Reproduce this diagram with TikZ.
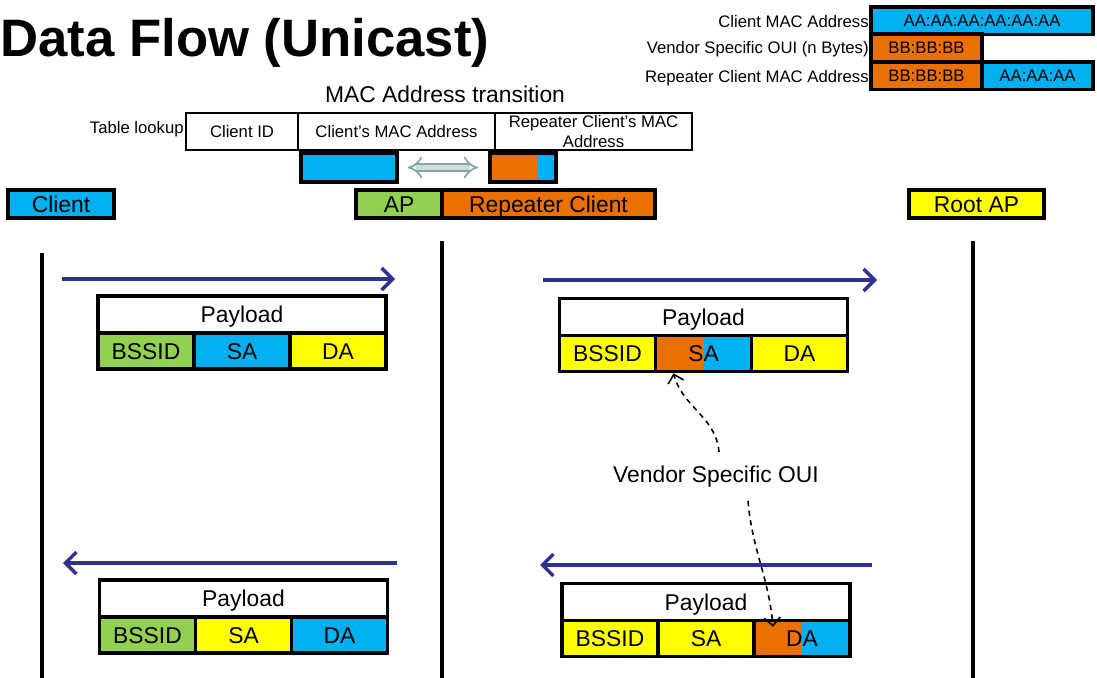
\documentclass[tikz,border=0pt]{standalone}
\usepackage{fontspec}
\setmainfont{Liberation Sans}
\usepackage{tikz}
\usetikzlibrary{arrows.meta}

\definecolor{macblue}{RGB}{0,176,240}
\definecolor{macorange}{RGB}{236,112,0}
\definecolor{macgreen}{RGB}{146,208,80}
\definecolor{macyellow}{RGB}{255,255,0}
\definecolor{flownavy}{RGB}{46,49,146}
\definecolor{swapgray}{RGB}{130,165,165}

\tikzset{
  field/.style={draw, line width=2pt, inner sep=0pt, minimum width=1.92cm, minimum height=0.72cm, text height=9.3pt, text depth=0pt, font=\fontsize{13}{15}\selectfont},
  payload/.style={field, fill=white, minimum width=5.76cm, minimum height=0.74cm},
  halves/.style={fill=macblue, path picture={\fill[macorange] (path picture bounding box.south west) rectangle ([xshift=#1]path picture bounding box.north west);}},
  station/.style={draw, line width=2pt, inner sep=0pt, minimum height=0.56cm, text height=9.3pt, text depth=0pt, font=\fontsize{13}{15}\selectfont},
  addr/.style={draw, line width=2pt, inner sep=0pt, minimum height=0.55cm, font=\fontsize{9.5}{11}\selectfont},
  small/.style={inner sep=0pt, font=\fontsize{9.5}{11}\selectfont},
  cell/.style={draw, line width=0.6pt, inner sep=0pt, minimum height=0.74cm, font=\fontsize{9.5}{11}\selectfont, align=center},
  flow/.style={line width=2pt, flownavy, -{Straight Barb[length=2.2mm, width=4.4mm]}},
  ouiarrow/.style={line width=0.9pt, dash pattern=on 3pt off 2.5pt, -{Straight Barb[length=1.6mm, width=3.2mm]}},
  lifeline/.style={line width=2pt},
}

\begin{document}
\begin{tikzpicture}[x=0.02cm, y=-0.02cm]
  \useasboundingbox (0,0) rectangle (1097,678);

  \node[anchor=base west, inner sep=0pt, font=\fontsize{30}{36}\selectfont\bfseries] (title) at (0,57) {Data Flow (Unicast)};

  % address formats
  \node[small, anchor=east] (lclient) at (869,22) {Client MAC Address};
  \node[small, anchor=east] (lvendor) at (869,49) {Vendor Specific OUI (n Bytes)};
  \node[small, anchor=east] (lrepeat) at (869,78) {Repeater Client MAC Address};
  \node[addr, fill=macblue, minimum width=4.44cm] (m1) at (982,21) {AA:AA:AA:AA:AA:AA};
  \node[addr, fill=macorange, minimum width=2.22cm] (m2) at (926.5,48) {BB:BB:BB};
  \node[addr, fill=macorange, minimum width=2.22cm] (m3) at (926.5,76) {BB:BB:BB};
  \node[addr, fill=macblue, minimum width=2.22cm] (m4) at (1037.5,76) {AA:AA:AA};

  % table lookup
  \node[inner sep=0pt, font=\fontsize{13}{15}\selectfont] (trans) at (445,94) {MAC Address transition};
  \node[small, anchor=east] (lookup) at (184,129) {Table lookup};
  \node[cell, minimum width=2.24cm] (t1) at (242,131.5) {Client ID};
  \node[cell, minimum width=3.94cm] (t2) at (396.5,131.5) {Client’s MAC Address};
  \node[cell, minimum width=3.94cm] (t3) at (593.5,131.5) {Repeater Client’s MAC\\Address};
  \node[addr, fill=macblue, minimum width=1.92cm, minimum height=0.58cm] (cmac) at (349,167.5) {};
  \node[addr, halves=0.94cm, minimum width=1.32cm, minimum height=0.58cm] (rmac) at (523,167.5) {};
  \draw[swapgray, double=swapgray!40, double distance=3.2pt, line width=1pt, {Implies}-{Implies}, shorten <=0.18cm, shorten >=0.2cm] (cmac.east) -- (rmac.west);

  % stations
  \node[station, fill=macblue, minimum width=2.12cm] (client) at (61,204) {Client};
  \node[station, fill=macgreen, minimum width=1.72cm] (ap) at (399,204) {AP};
  \node[station, fill=macorange, minimum width=4.26cm] (rep) at (548.5,204) {Repeater Client};
  \node[station, fill=macyellow, minimum width=2.7cm] (root) at (976.5,204) {Root AP};

  \coordinate (c1) at (42,253);
  \coordinate (c2) at (442,241);
  \coordinate (c3) at (973,241);
  \draw[lifeline] (c1) -- (42,678);
  \draw[lifeline] (c2) -- (442,678);
  \draw[lifeline] (c3) -- (973,678);

  % uplink
  \coordinate (u1) at (62,279);
  \coordinate (u2) at (395,279);
  \coordinate (u3) at (543,280);
  \coordinate (u4) at (877,280);
  \draw[flow] (u1) -- (u2);
  \draw[flow] (u3) -- (u4);

  \node[payload] (pl1) at (242,314.5) {Payload};
  \node[field, fill=macgreen] (bs1) at (146,351) {BSSID};
  \node[field, fill=macblue] (sa1) at (242,351) {SA};
  \node[field, fill=macyellow] (da1) at (338,351) {DA};

  \node[payload] (pl2) at (703.5,317) {Payload};
  \node[field, fill=macyellow] (bs2) at (607.5,353.5) {BSSID};
  \node[field, halves=0.96cm] (sa2) at (703.5,353.5) {SA};
  \node[field, fill=macyellow] (da2) at (799.5,353.5) {DA};

  % downlink
  \coordinate (d1) at (397,563);
  \coordinate (d2) at (63,563);
  \coordinate (d3) at (872,565);
  \coordinate (d4) at (540,565);
  \draw[flow] (d1) -- (d2);
  \draw[flow] (d3) -- (d4);

  \node[payload] (pl3) at (243.5,598.5) {Payload};
  \node[field, fill=macgreen] (bs3) at (147.5,635) {BSSID};
  \node[field, fill=macyellow] (sa3) at (243.5,635) {SA};
  \node[field, fill=macblue] (da3) at (339.5,635) {DA};

  \node[payload] (pl4) at (706,602) {Payload};
  \node[field, fill=macyellow] (bs4) at (610,638.5) {BSSID};
  \node[field, fill=macyellow] (sa4) at (706,638.5) {SA};
  \node[field, halves=0.96cm] (da4) at (802,638.5) {DA};

  % vendor specific OUI
  \node[inner sep=0pt, font=\fontsize{13}{15}\selectfont] (oui) at (716,477) {Vendor Specific OUI};
  \draw[ouiarrow] ([xshift=0.06cm, yshift=0.28cm]oui.north) to[out=95, in=-75] ([xshift=-0.6cm]sa2.south);
  \draw[ouiarrow] ([xshift=0.64cm, yshift=-0.26cm]oui.south) to[out=-85, in=95] ([xshift=-0.58cm, yshift=-0.16cm]da4.north);
\end{tikzpicture}
\end{document}
